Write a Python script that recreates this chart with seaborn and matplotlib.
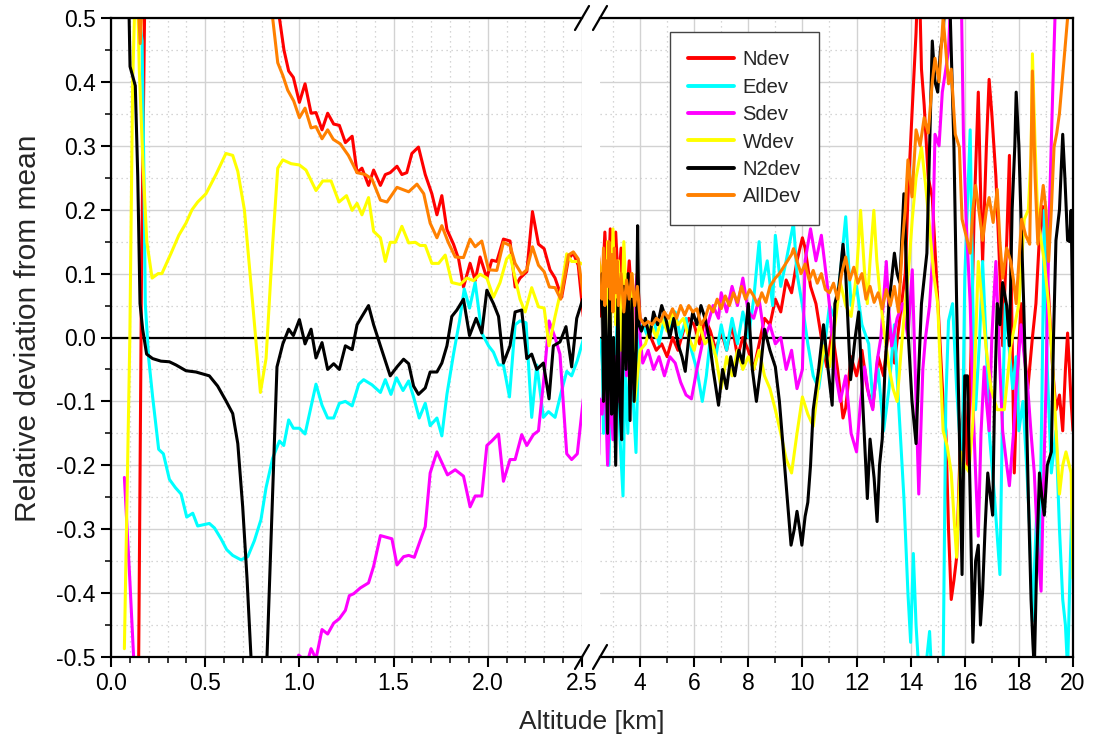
import numpy as np
import pandas as pd
import matplotlib
matplotlib.use("Agg")
import matplotlib.pyplot as plt
from matplotlib.lines import Line2D
from matplotlib.ticker import MultipleLocator, FormatStrFormatter
import seaborn as sns

# ---------------- data: (altitude km, relative deviation) ----------------
ndev_pts = [
    (0.075, -0.9), (0.125, -0.8), (0.147, -0.5), (0.162, 0.1), (0.182, 0.6), (0.2, 0.9),
    (0.3, 0.95), (0.5, 0.9), (0.7, 0.75), (0.85, 0.58), (0.894, 0.5), (0.918, 0.45),
    (0.943, 0.417), (0.968, 0.407), (1.0, 0.368), (1.03, 0.397), (1.062, 0.351), (1.088, 0.352),
    (1.12, 0.325), (1.15, 0.351), (1.182, 0.334), (1.212, 0.332), (1.244, 0.305), (1.28, 0.315),
    (1.306, 0.258), (1.332, 0.265), (1.367, 0.238), (1.394, 0.262), (1.43, 0.238), (1.456, 0.255),
    (1.482, 0.258), (1.518, 0.268), (1.544, 0.255), (1.57, 0.258), (1.597, 0.288), (1.632, 0.298),
    (1.668, 0.255), (1.703, 0.225), (1.73, 0.192), (1.756, 0.222), (1.783, 0.169), (1.818, 0.146),
    (1.845, 0.123), (1.871, 0.079), (1.906, 0.116), (1.933, 0.089), (1.959, 0.126), (1.995, 0.093),
    (2.021, 0.121), (2.048, 0.119), (2.083, 0.154), (2.118, 0.151), (2.145, 0.079), (2.171, 0.093),
    (2.207, 0.103), (2.237, 0.197), (2.269, 0.146), (2.299, 0.139), (2.33, 0.106), (2.357, 0.093),
    (2.392, 0.063), (2.428, 0.123), (2.454, 0.132), (2.48, 0.113), (2.507, 0.033),
    (2.6, 0.07), (2.7, 0.165), (2.8, 0.06), (2.9, 0.17), (3.0, 0.05), (3.1, 0.165), (3.2, 0.08),
    (3.3, 0.14), (3.45, 0.03), (3.6, 0.12), (3.75, 0.02), (3.9, 0.1), (4.0, 0.03), (4.2, 0.02),
    (4.4, 0.0), (4.6, -0.02), (4.8, -0.01), (5.0, -0.03), (5.2, 0.0), (5.4, -0.02), (5.6, 0.01),
    (5.8, 0.03), (6.0, 0.02), (6.2, -0.01), (6.4, 0.03), (6.6, 0.01), (6.8, -0.02), (7.0, 0.01),
    (7.2, -0.02), (7.4, 0.02), (7.6, -0.03), (7.8, 0.0), (8.0, -0.02), (8.2, -0.05), (8.4, -0.01),
    (8.6, 0.03), (8.8, 0.02), (9.0, 0.06), (9.2, 0.04), (9.4, 0.09), (9.6, 0.07), (9.8, 0.12),
    (10.0, 0.156), (10.1, 0.14), (10.3, 0.08), (10.5, 0.053), (10.7, 0.0), (10.9, -0.046),
    (11.1, 0.01), (11.3, -0.05), (11.5, -0.126), (11.6, -0.11), (11.8, -0.03), (12.0, -0.06),
    (12.2, -0.02), (12.4, -0.08), (12.6, -0.11), (12.8, -0.03), (13.0, -0.06), (13.2, 0.02),
    (13.4, -0.04), (13.6, 0.03), (13.8, 0.1), (13.9, 0.219), (14.05, 0.35), (14.2, 0.477),
    (14.3, 0.6), (14.4, 0.42), (14.5, 0.364), (14.65, 0.25), (14.8, 0.219), (14.95, 0.1),
    (15.05, 0.02), (15.2, -0.1), (15.3, -0.146), (15.4, -0.3), (15.5, -0.41), (15.6, -0.38),
    (15.7, -0.344), (15.85, -0.146), (16.0, -0.1), (16.1, -0.2), (16.2, -0.08), (16.35, 0.2),
    (16.5, 0.384), (16.6, 0.2), (16.66, 0.119), (16.8, 0.3), (16.9, 0.404), (17.0, 0.35),
    (17.15, 0.252), (17.3, 0.1), (17.4, -0.013), (17.55, 0.15), (17.65, 0.285), (17.75, 0.0),
    (17.83, -0.212), (17.95, -0.05), (18.08, 0.053), (18.2, -0.02), (18.33, -0.08), (18.5, 0.0),
    (18.63, 0.053), (18.75, 0.15), (18.88, 0.205), (19.0, 0.12), (19.1, 0.066), (19.25, -0.05),
    (19.37, -0.113), (19.5, -0.09), (19.62, -0.146), (19.72, -0.05), (19.8, 0.007),
    (19.93, -0.1), (20.0, -0.146),
]

edev_pts = [
    (0.075, 0.9), (0.1, 0.8), (0.125, 0.6), (0.15, 0.5), (0.165, 0.464), (0.175, 0.25),
    (0.182, 0.053), (0.2, -0.033), (0.221, -0.093), (0.253, -0.175), (0.278, -0.182), (0.31, -0.222),
    (0.342, -0.235), (0.372, -0.245), (0.402, -0.281), (0.434, -0.275), (0.46, -0.295),
    (0.522, -0.291), (0.549, -0.298), (0.584, -0.315), (0.614, -0.332), (0.646, -0.341),
    (0.69, -0.348), (0.726, -0.343), (0.761, -0.318), (0.796, -0.285), (0.823, -0.235),
    (0.858, -0.189), (0.894, -0.162), (0.917, -0.169), (0.943, -0.129), (0.968, -0.142),
    (1.0, -0.142), (1.03, -0.151), (1.088, -0.073), (1.12, -0.106), (1.15, -0.126), (1.182, -0.126),
    (1.212, -0.103), (1.244, -0.1), (1.28, -0.107), (1.315, -0.073), (1.341, -0.066),
    (1.385, -0.074), (1.43, -0.086), (1.456, -0.066), (1.486, -0.089), (1.515, -0.063),
    (1.55, -0.083), (1.58, -0.068), (1.606, -0.093), (1.636, -0.126), (1.668, -0.103),
    (1.694, -0.138), (1.73, -0.126), (1.756, -0.154), (1.783, -0.089), (1.818, -0.026),
    (1.85, 0.026), (1.875, 0.076), (1.903, 0.046), (1.933, 0.086), (1.968, 0.007), (2.004, -0.013),
    (2.03, -0.023), (2.057, -0.043), (2.083, -0.043), (2.115, -0.093), (2.145, 0.02), (2.171, 0.026),
    (2.203, 0.023), (2.233, -0.125), (2.26, -0.043), (2.295, -0.125), (2.322, -0.116),
    (2.357, -0.125), (2.392, -0.083), (2.419, -0.053), (2.445, -0.06), (2.475, -0.036),
    (2.507, -0.003),
    (2.6, -0.02), (2.65, -0.15), (2.75, -0.05), (2.85, -0.2), (2.95, 0.0), (3.05, -0.12),
    (3.15, 0.03), (3.25, -0.15), (3.37, -0.248), (3.45, -0.05), (3.55, -0.15), (3.65, 0.02),
    (3.75, -0.1), (3.85, -0.18), (3.95, 0.0), (4.1, 0.02), (4.3, 0.0), (4.5, 0.03), (4.7, -0.01),
    (4.9, 0.03), (5.1, 0.01), (5.3, 0.04), (5.5, 0.0), (5.7, 0.03), (5.9, -0.02), (6.1, -0.05),
    (6.3, -0.1), (6.45, -0.06), (6.6, 0.0), (6.8, -0.03), (7.0, 0.02), (7.2, -0.02), (7.4, 0.03),
    (7.6, -0.01), (7.8, 0.04), (8.0, 0.0), (8.2, 0.06), (8.4, 0.15), (8.5, 0.08), (8.7, 0.12),
    (8.9, 0.05), (9.0, 0.16), (9.2, 0.08), (9.4, 0.12), (9.67, 0.179), (9.8, 0.1), (10.0, 0.05),
    (10.2, -0.01), (10.4, -0.06), (10.6, -0.08), (10.8, -0.02), (11.0, 0.05), (11.2, 0.03),
    (11.4, 0.1), (11.6, 0.189), (11.8, 0.05), (12.0, 0.08), (12.2, 0.02), (12.45, -0.01),
    (12.6, -0.1), (12.8, -0.05), (13.0, -0.146), (13.2, -0.08), (13.4, 0.02), (13.55, -0.1),
    (13.75, -0.25), (13.9, -0.4), (14.0, -0.477), (14.1, -0.338), (14.2, -0.45), (14.3, -0.52),
    (14.5, -0.55), (14.6, -0.5), (14.7, -0.46), (14.8, -0.55), (14.9, -0.52), (15.05, -0.55),
    (15.2, -0.52), (15.3, -0.1), (15.4, 0.026), (15.55, 0.053), (15.7, -0.08), (15.9, -0.212),
    (16.0, 0.093), (16.2, 0.325), (16.3, 0.05), (16.4, -0.113), (16.55, 0.0), (16.66, 0.119),
    (16.8, -0.02), (16.9, -0.146), (17.1, -0.25), (17.3, -0.371), (17.4, -0.1), (17.5, 0.053),
    (17.65, -0.02), (17.77, -0.08), (17.9, -0.03), (18.0, -0.146), (18.15, -0.1), (18.3, -0.212),
    (18.4, -0.3), (18.5, -0.444), (18.65, -0.28), (18.76, -0.344), (18.85, -0.1), (18.94, 0.199),
    (19.05, -0.05), (19.2, -0.212), (19.37, -0.146), (19.5, -0.3), (19.62, -0.41), (19.72, -0.45),
    (19.8, -0.52), (19.9, -0.35), (20.0, -0.212),
]

sdev_pts = [
    (0.071, -0.219), (0.1, -0.38), (0.12, -0.5), (0.14, -0.7), (0.2, -0.8), (0.4, -0.9),
    (0.6, -0.95), (0.8, -0.85), (0.95, -0.6), (0.996, -0.497), (1.02, -0.503), (1.04, -0.51),
    (1.062, -0.487), (1.088, -0.503), (1.12, -0.457), (1.15, -0.464), (1.182, -0.447),
    (1.212, -0.44), (1.244, -0.427), (1.265, -0.404), (1.288, -0.401), (1.323, -0.392),
    (1.367, -0.384), (1.394, -0.358), (1.43, -0.31), (1.491, -0.315), (1.518, -0.356),
    (1.553, -0.343), (1.58, -0.341), (1.61, -0.344), (1.641, -0.318), (1.668, -0.296),
    (1.694, -0.212), (1.73, -0.179), (1.786, -0.215), (1.827, -0.207), (1.871, -0.217),
    (1.906, -0.265), (1.933, -0.248), (1.968, -0.248), (1.995, -0.169), (2.021, -0.162),
    (2.057, -0.151), (2.083, -0.225), (2.118, -0.191), (2.145, -0.191), (2.18, -0.152),
    (2.207, -0.169), (2.242, -0.152), (2.269, -0.146), (2.299, -0.06), (2.325, 0.026),
    (2.357, 0.0), (2.383, -0.026), (2.419, -0.182), (2.445, -0.191), (2.475, -0.182),
    (2.507, -0.096),
    (2.6, -0.12), (2.7, -0.05), (2.8, -0.2), (2.9, -0.08), (3.0, -0.16), (3.1, -0.03), (3.2, -0.1),
    (3.3, -0.05), (3.4, 0.05), (3.5, -0.06), (3.6, 0.02), (3.7, -0.08), (3.8, 0.05), (3.9, 0.1),
    (4.0, 0.0), (4.1, -0.04), (4.3, -0.02), (4.5, -0.05), (4.7, -0.03), (4.9, -0.06), (5.1, -0.03),
    (5.3, -0.04), (5.5, -0.07), (5.7, -0.09), (5.9, -0.096), (6.1, -0.05), (6.3, -0.01),
    (6.5, 0.02), (6.7, 0.05), (6.9, 0.03), (7.0, 0.07), (7.2, 0.04), (7.4, 0.08), (7.6, 0.05),
    (7.8, 0.093), (8.0, 0.04), (8.2, 0.03), (8.4, 0.06), (8.6, 0.0), (8.8, 0.02), (9.0, -0.01),
    (9.2, 0.0), (9.4, -0.05), (9.6, -0.02), (9.8, -0.08), (10.0, -0.05), (10.1, 0.12),
    (10.3, 0.17), (10.5, 0.12), (10.7, 0.16), (10.9, 0.09), (11.0, 0.05), (11.2, -0.05),
    (11.4, -0.1), (11.6, -0.06), (11.8, -0.15), (12.0, -0.179), (12.15, -0.1), (12.3, -0.046),
    (12.45, -0.09), (12.6, -0.113), (12.75, -0.04), (12.9, 0.0), (13.1, 0.119), (13.2, 0.04),
    (13.3, -0.013), (13.5, 0.03), (13.7, 0.053), (13.9, 0.0), (14.06, 0.106), (14.2, -0.1),
    (14.3, -0.245), (14.45, -0.05), (14.55, 0.0), (14.7, 0.05), (14.8, 0.119), (14.9, 0.318),
    (15.05, 0.3), (15.17, 0.384), (15.3, 0.42), (15.4, 0.45), (15.5, 0.55), (15.6, 0.6),
    (15.75, 0.55), (15.85, 0.6), (15.95, 0.318), (16.05, 0.185), (16.2, 0.053), (16.3, -0.1),
    (16.4, -0.212), (16.5, -0.311), (16.6, -0.15), (16.72, -0.046), (16.8, -0.1), (16.9, -0.146),
    (17.0, 0.0), (17.15, 0.119), (17.3, -0.05), (17.4, -0.146), (17.55, -0.2), (17.65, -0.232),
    (17.8, -0.15), (17.9, -0.08), (18.08, 0.02), (18.2, -0.03), (18.33, -0.08), (18.45, -0.15),
    (18.57, -0.212), (18.7, -0.33), (18.82, -0.397), (18.9, -0.25), (19.0, -0.08), (19.12, 0.185),
    (19.25, 0.384), (19.37, 0.55), (19.5, 0.6), (19.6, 0.7), (20.0, 0.8),
]

wdev_pts = [
    (0.071, -0.487), (0.1, 0.0), (0.115, 0.4), (0.129, 0.55), (0.14, 0.55), (0.15, 0.42),
    (0.17, 0.27), (0.19, 0.15), (0.218, 0.093), (0.25, 0.1), (0.27, 0.1), (0.319, 0.132),
    (0.36, 0.16), (0.398, 0.179), (0.43, 0.2), (0.46, 0.212), (0.504, 0.225), (0.557, 0.255),
    (0.61, 0.288), (0.646, 0.285), (0.673, 0.26), (0.708, 0.2), (0.752, 0.053), (0.793, -0.086),
    (0.823, -0.033), (0.858, 0.146), (0.885, 0.265), (0.912, 0.278), (0.956, 0.272), (1.0, 0.27),
    (1.035, 0.262), (1.088, 0.23), (1.124, 0.245), (1.168, 0.245), (1.21, 0.212), (1.25, 0.222),
    (1.28, 0.199), (1.306, 0.21), (1.332, 0.192), (1.367, 0.219), (1.394, 0.166), (1.43, 0.156),
    (1.456, 0.119), (1.482, 0.149), (1.509, 0.149), (1.544, 0.174), (1.58, 0.148), (1.615, 0.149),
    (1.641, 0.144), (1.668, 0.144), (1.703, 0.116), (1.739, 0.116), (1.774, 0.129), (1.809, 0.086),
    (1.853, 0.083), (1.889, 0.093), (1.924, 0.089), (1.959, 0.099), (1.995, 0.093), (2.03, 0.063),
    (2.065, 0.086), (2.1, 0.123), (2.118, 0.129), (2.145, 0.093), (2.171, 0.06), (2.198, 0.04),
    (2.233, 0.078), (2.269, 0.048), (2.299, 0.046), (2.325, -0.013), (2.357, 0.033),
    (2.392, 0.079), (2.419, 0.131), (2.445, 0.119), (2.475, 0.119),
    (2.6, 0.1), (2.7, -0.05), (2.8, 0.15), (2.9, 0.0), (3.0, 0.17), (3.1, 0.02), (3.2, 0.12),
    (3.3, -0.02), (3.4, 0.15), (3.5, 0.05), (3.6, -0.03), (3.7, 0.1), (3.8, -0.1), (3.9, -0.06),
    (4.0, -0.02), (4.2, -0.01), (4.4, 0.02), (4.6, 0.0), (4.8, 0.03), (5.0, 0.01), (5.2, 0.04),
    (5.4, 0.02), (5.6, 0.03), (5.8, 0.0), (6.0, -0.02), (6.2, 0.02), (6.4, -0.01), (6.6, 0.0),
    (6.8, -0.03), (7.0, -0.08), (7.2, -0.03), (7.4, -0.06), (7.6, -0.02), (7.8, -0.05),
    (8.0, -0.03), (8.2, -0.05), (8.4, -0.02), (8.6, -0.06), (8.8, -0.08), (9.0, -0.113),
    (9.2, -0.15), (9.4, -0.19), (9.6, -0.212), (9.8, -0.15), (10.0, -0.093), (10.2, -0.12),
    (10.4, -0.139), (10.6, -0.07), (10.8, -0.013), (11.0, -0.046), (11.2, 0.02), (11.4, 0.086),
    (11.6, 0.05), (11.8, 0.033), (12.0, 0.1), (12.15, 0.199), (12.3, 0.1), (12.4, 0.053),
    (12.5, 0.12), (12.64, 0.199), (12.75, 0.12), (12.9, 0.053), (13.05, 0.0), (13.2, -0.046),
    (13.35, -0.08), (13.5, -0.1), (13.65, -0.02), (13.8, 0.053), (13.95, 0.12), (14.06, 0.185),
    (14.2, 0.25), (14.4, 0.298), (14.55, 0.24), (14.7, 0.172), (14.85, 0.1), (15.0, 0.053),
    (15.1, -0.05), (15.2, -0.146), (15.35, -0.17), (15.5, -0.212), (15.6, -0.28), (15.7, -0.344),
    (15.85, -0.179), (16.0, -0.2), (16.15, -0.21), (16.3, -0.132), (16.5, 0.119), (16.65, 0.05),
    (16.78, -0.013), (16.97, -0.08), (17.2, -0.113), (17.46, -0.113), (17.7, -0.013),
    (18.0, 0.053), (18.2, 0.185), (18.35, 0.2), (18.45, 0.285), (18.5, 0.444), (18.6, 0.3),
    (18.7, 0.185), (18.94, 0.119), (19.1, 0.05), (19.25, -0.046), (19.5, -0.245), (19.62, -0.2),
    (19.74, -0.179), (19.93, -0.212), (20.0, -0.377),
]

n2dev_pts = [
    (0.075, 0.9), (0.09, 0.6), (0.101, 0.424), (0.129, 0.394), (0.142, 0.252), (0.154, 0.053),
    (0.168, 0.013), (0.189, -0.026), (0.221, -0.033), (0.265, -0.037), (0.31, -0.038),
    (0.345, -0.043), (0.398, -0.052), (0.451, -0.054), (0.522, -0.06), (0.566, -0.076),
    (0.61, -0.099), (0.646, -0.119), (0.673, -0.166), (0.699, -0.265), (0.722, -0.377),
    (0.743, -0.5), (0.77, -0.65), (0.8, -0.65), (0.828, -0.5), (0.881, -0.046), (0.912, -0.01),
    (0.943, 0.013), (0.968, 0.003), (1.0, 0.028), (1.03, -0.01), (1.062, 0.013), (1.088, -0.032),
    (1.12, -0.008), (1.15, -0.05), (1.182, -0.041), (1.212, -0.05), (1.244, -0.013),
    (1.28, -0.019), (1.306, 0.02), (1.332, 0.033), (1.367, 0.05), (1.394, 0.02), (1.43, -0.013),
    (1.482, -0.06), (1.518, -0.046), (1.553, -0.034), (1.58, -0.041), (1.606, -0.076),
    (1.632, -0.089), (1.668, -0.079), (1.694, -0.054), (1.73, -0.054), (1.756, -0.04),
    (1.783, -0.013), (1.809, 0.033), (1.836, 0.043), (1.871, 0.06), (1.903, 0.003), (1.938, 0.03),
    (1.968, 0.007), (1.995, 0.074), (2.03, 0.053), (2.057, 0.033), (2.083, -0.04), (2.118, -0.013),
    (2.145, 0.04), (2.18, 0.043), (2.207, -0.033), (2.233, -0.026), (2.26, -0.05), (2.295, -0.04),
    (2.325, -0.096), (2.348, -0.013), (2.383, -0.007), (2.415, 0.017), (2.445, -0.046),
    (2.472, 0.03), (2.504, 0.06),
    (2.6, 0.1), (2.65, -0.1), (2.72, 0.05), (2.8, -0.15), (2.88, 0.08), (2.95, -0.12), (3.02, 0.0),
    (3.1, -0.2), (3.18, 0.06), (3.25, -0.1), (3.32, -0.16), (3.4, 0.08), (3.48, -0.05), (3.56, 0.1),
    (3.63, -0.13), (3.7, 0.06), (3.78, -0.1), (3.86, -0.02), (3.91, 0.175), (3.96, 0.02),
    (4.05, 0.01), (4.2, 0.03), (4.35, 0.0), (4.5, 0.04), (4.65, 0.02), (4.8, 0.05), (4.95, 0.03),
    (5.1, 0.0), (5.25, 0.03), (5.4, -0.01), (5.55, -0.03), (5.67, -0.053), (5.8, 0.0), (5.95, 0.04),
    (6.1, 0.02), (6.25, 0.05), (6.4, 0.03), (6.55, 0.0), (6.7, -0.05), (6.9, -0.106), (7.05, -0.05),
    (7.2, -0.08), (7.35, -0.03), (7.5, -0.06), (7.65, -0.02), (7.8, -0.04), (8.0, 0.053),
    (8.15, -0.05), (8.3, -0.1), (8.45, -0.05), (8.6, 0.013), (8.8, -0.02), (9.0, -0.046),
    (9.15, -0.1), (9.3, -0.179), (9.45, -0.26), (9.58, -0.325), (9.7, -0.3), (9.8, -0.272),
    (9.9, -0.3), (9.98, -0.325), (10.1, -0.28), (10.2, -0.258), (10.3, -0.2), (10.4, -0.113),
    (10.6, -0.05), (10.78, 0.02), (10.95, -0.05), (11.1, -0.106), (11.2, 0.053), (11.35, 0.08),
    (11.5, 0.146), (11.6, 0.1), (11.78, -0.066), (11.95, 0.0), (12.08, 0.04), (12.25, -0.12),
    (12.4, -0.252), (12.5, -0.159), (12.65, -0.22), (12.76, -0.288), (12.85, -0.2), (12.95, -0.159),
    (13.05, -0.05), (13.2, 0.053), (13.4, 0.132), (13.5, 0.1), (13.6, 0.086), (13.75, 0.225),
    (13.85, 0.1), (13.9, 0.013), (14.05, -0.1), (14.2, -0.166), (14.3, -0.05), (14.4, 0.053),
    (14.6, 0.132), (14.7, 0.3), (14.8, 0.464), (14.9, 0.4), (15.0, 0.384), (15.1, 0.45),
    (15.2, 0.477), (15.3, 0.55), (15.4, 0.6), (15.5, 0.45), (15.6, 0.298), (15.7, 0.053),
    (15.8, -0.15), (15.9, -0.371), (16.0, -0.06), (16.1, -0.06), (16.2, -0.25), (16.3, -0.477),
    (16.4, -0.35), (16.5, -0.325), (16.58, -0.45), (16.66, -0.397), (16.75, -0.3), (16.85, -0.212),
    (16.95, -0.25), (17.03, -0.278), (17.1, -0.1), (17.2, 0.053), (17.3, 0.02), (17.4, 0.086),
    (17.55, 0.05), (17.65, -0.013), (17.75, 0.2), (17.85, 0.3), (17.9, 0.384), (18.0, 0.3),
    (18.08, 0.185), (18.18, 0.05), (18.26, -0.08), (18.35, -0.25), (18.45, -0.41), (18.52, -0.48),
    (18.57, -0.52), (18.66, -0.35), (18.76, -0.212), (18.85, -0.25), (18.94, -0.278), (19.05, -0.2),
    (19.2, -0.179), (19.28, 0.0), (19.37, 0.152), (19.5, 0.2), (19.62, 0.318), (19.7, 0.25),
    (19.8, 0.152), (19.88, 0.15), (19.93, 0.199), (20.0, 0.0),
]

alldev_pts = [
    (0.075, 0.75), (0.11, 0.65), (0.14, 0.55), (0.155, 0.46), (0.17, 0.55), (0.2, 0.7),
    (0.3, 0.72), (0.5, 0.7), (0.7, 0.62), (0.858, 0.5), (0.885, 0.43), (0.912, 0.41),
    (0.938, 0.387), (0.97, 0.37), (1.0, 0.344), (1.03, 0.359), (1.062, 0.328), (1.088, 0.33),
    (1.12, 0.311), (1.15, 0.325), (1.18, 0.31), (1.217, 0.303), (1.26, 0.285), (1.306, 0.258),
    (1.35, 0.255), (1.385, 0.248), (1.43, 0.215), (1.465, 0.212), (1.518, 0.235), (1.58, 0.228),
    (1.624, 0.24), (1.66, 0.225), (1.694, 0.179), (1.73, 0.156), (1.756, 0.175), (1.79, 0.149),
    (1.827, 0.126), (1.871, 0.125), (1.906, 0.154), (1.933, 0.142), (1.968, 0.151), (2.004, 0.106),
    (2.048, 0.105), (2.083, 0.149), (2.118, 0.144), (2.145, 0.116), (2.18, 0.099), (2.207, 0.106),
    (2.237, 0.142), (2.269, 0.113), (2.299, 0.103), (2.327, 0.079), (2.357, 0.078), (2.387, 0.06),
    (2.428, 0.129), (2.454, 0.134), (2.48, 0.123), (2.507, 0.066),
    (2.6, 0.06), (2.65, 0.14), (2.7, 0.05), (2.75, 0.12), (2.8, 0.08), (2.85, 0.15), (2.9, 0.06),
    (2.95, 0.13), (3.0, 0.04), (3.05, 0.14), (3.1, 0.07), (3.15, 0.12), (3.2, 0.05), (3.3, 0.1),
    (3.4, 0.04), (3.5, 0.09), (3.6, 0.06), (3.7, 0.1), (3.8, 0.05), (3.9, 0.08), (4.0, 0.03),
    (4.15, 0.02), (4.3, 0.025), (4.45, 0.02), (4.6, 0.03), (4.75, 0.025), (4.9, 0.04), (5.05, 0.03),
    (5.2, 0.045), (5.35, 0.03), (5.5, 0.05), (5.65, 0.035), (5.8, 0.05), (5.95, 0.04), (6.1, 0.045),
    (6.25, 0.02), (6.4, 0.03), (6.55, 0.05), (6.7, 0.04), (6.85, 0.06), (7.0, 0.045), (7.15, 0.065),
    (7.3, 0.05), (7.45, 0.07), (7.6, 0.055), (7.75, 0.08), (7.9, 0.06), (8.05, 0.075), (8.2, 0.065),
    (8.35, 0.05), (8.5, 0.07), (8.65, 0.055), (8.8, 0.08), (9.0, 0.093), (9.15, 0.1), (9.3, 0.11),
    (9.45, 0.12), (9.6, 0.13), (9.67, 0.139), (9.8, 0.12), (9.95, 0.1), (10.1, 0.115), (10.25, 0.09),
    (10.4, 0.105), (10.55, 0.085), (10.7, 0.1), (10.85, 0.075), (11.0, 0.07), (11.15, 0.085),
    (11.3, 0.06), (11.45, 0.1), (11.6, 0.126), (11.75, 0.09), (11.9, 0.11), (12.05, 0.085),
    (12.2, 0.1), (12.35, 0.06), (12.5, 0.08), (12.65, 0.055), (12.8, 0.07), (12.95, 0.045),
    (13.1, 0.075), (13.25, 0.05), (13.4, 0.08), (13.55, 0.04), (13.7, 0.15), (13.8, 0.2),
    (13.9, 0.278), (14.05, 0.22), (14.2, 0.325), (14.35, 0.3), (14.5, 0.344), (14.65, 0.32),
    (14.8, 0.4), (14.9, 0.437), (15.05, 0.4), (15.2, 0.5), (15.3, 0.45), (15.4, 0.397),
    (15.5, 0.42), (15.65, 0.318), (15.8, 0.298), (15.9, 0.185), (16.05, 0.159), (16.2, 0.132),
    (16.3, 0.2), (16.4, 0.238), (16.55, 0.19), (16.66, 0.152), (16.8, 0.2), (16.9, 0.219),
    (17.05, 0.18), (17.2, 0.232), (17.3, 0.15), (17.4, 0.093), (17.55, 0.14), (17.7, 0.119),
    (17.8, 0.09), (17.9, 0.053), (18.0, 0.12), (18.1, 0.185), (18.25, 0.16), (18.4, 0.146),
    (18.5, 0.417), (18.6, 0.25), (18.7, 0.146), (18.8, 0.2), (18.9, 0.238), (19.0, 0.2),
    (19.1, 0.119), (19.2, 0.2), (19.3, 0.298), (19.4, 0.32), (19.5, 0.351), (19.6, 0.4),
    (19.7, 0.45), (19.8, 0.5), (19.9, 0.6), (20.0, 0.65),
]

series_names = ["Ndev", "Edev", "Sdev", "Wdev", "N2dev", "AllDev"]
series_colors = ["#FF0000", "#00FFFF", "#FF00FF", "#FFFF00", "#000000", "#FF8000"]
series_points = [ndev_pts, edev_pts, sdev_pts, wdev_pts, n2dev_pts, alldev_pts]

left_ticks = [0.0, 0.5, 1.0, 1.5, 2.0, 2.5]
right_ticks = [4, 6, 8, 10, 12, 14, 16, 18, 20]
y_ticks = [-0.5, -0.4, -0.3, -0.2, -0.1, 0.0, 0.1, 0.2, 0.3, 0.4, 0.5]

rows = []
for name, pts in zip(series_names, series_points):
    for i, (a, v) in enumerate(pts):
        rows.append({"Series": name, "Altitude": a, "Dev": v, "idx": i})
df = pd.DataFrame(rows)

# ---------------- style ----------------
sns.set_style("white")
plt.rcParams["font.family"] = ["Liberation Sans", "DejaVu Sans"]
plt.rcParams["axes.unicode_minus"] = False

W, H = 1098, 752
fig = plt.figure(figsize=(W / 100, H / 100), dpi=100)

L0, L1, R0, R1, T, B = 111, 582, 600, 1073, 18, 657
ax_l = fig.add_axes([L0 / W, 1 - B / H, (L1 - L0) / W, (B - T) / H])
ax_r = fig.add_axes([R0 / W, 1 - B / H, (R1 - R0) / W, (B - T) / H])

palette = dict(zip(series_names, series_colors))
for ax in (ax_l, ax_r):
    ax.axhline(0, color="black", lw=1.6, zorder=1.5)
    sns.lineplot(data=df, x="Altitude", y="Dev", hue="Series", hue_order=series_names,
                 palette=palette, estimator=None, sort=False, linewidth=2.2, ax=ax,
                 legend=False, zorder=2)
    ax.set_ylim(-0.5, 0.5)
    ax.set_xlabel("")
    ax.set_ylabel("")
    ax.set_axisbelow(True)
    ax.yaxis.set_major_locator(MultipleLocator(0.1))
    ax.yaxis.set_minor_locator(MultipleLocator(0.05))
    ax.grid(which="major", color="#d2d2d2", lw=1.0, ls="-")
    ax.grid(which="minor", color="#c8c8c8", lw=0.9, ls=(0, (1, 3)))
    for s in ax.spines.values():
        s.set_linewidth(1.6)
        s.set_color("black")
    ax.tick_params(which="major", direction="out", length=7, width=1.5,
                   labelsize=16.5, colors="black", pad=4)
    ax.tick_params(which="minor", direction="out", length=4, width=1.3)
    ax.tick_params(top=False, right=False, which="both")
    ax.tick_params(axis="x", bottom=True, which="both")

ax_l.set_xlim(0, 2.5)
ax_l.set_xticks(left_ticks)
ax_l.xaxis.set_minor_locator(MultipleLocator(0.1))
ax_l.xaxis.set_major_formatter(FormatStrFormatter("%.1f"))
ax_l.set_yticks(y_ticks)
ax_l.yaxis.set_major_formatter(FormatStrFormatter("%.1f"))
ax_l.tick_params(axis="y", left=True, which="both")
ax_l.spines["right"].set_visible(False)

ax_r.set_xlim(2.52, 20)
ax_r.set_xticks(right_ticks)
ax_r.xaxis.set_minor_locator(MultipleLocator(1))
ax_r.spines["left"].set_visible(False)
ax_r.tick_params(axis="y", left=False, labelleft=False, which="both")

# break marks
for xc in (L1, R0):
    for yc in (T, B):
        fig.add_artist(Line2D([(xc - 7) / W, (xc + 7) / W], [1 - (yc + 12) / H, 1 - (yc - 12) / H],
                              color="black", lw=1.6, transform=fig.transFigure))

# labels
fig.text(28 / W, 1 - 328 / H, "Relative deviation from mean", rotation=90,
         ha="center", va="center", fontsize=21.5)
fig.text(592 / W, 1 - 722 / H, "Altitude [km]", ha="center", va="center", fontsize=19)

# legend
handles = [Line2D([], [], color=c, lw=2.8) for c in series_colors]
leg = fig.legend(handles, series_names, loc="upper left",
                 bbox_to_anchor=(670 / W, 1 - 32 / H), bbox_transform=fig.transFigure,
                 frameon=True, fancybox=False, framealpha=1, edgecolor="#444444",
                 fontsize=14.5, handlelength=2.3, handletextpad=0.4, labelspacing=0.42,
                 borderpad=0.9, borderaxespad=0)
leg.get_frame().set_linewidth(1.0)

fig.savefig("out.png", dpi=100)
